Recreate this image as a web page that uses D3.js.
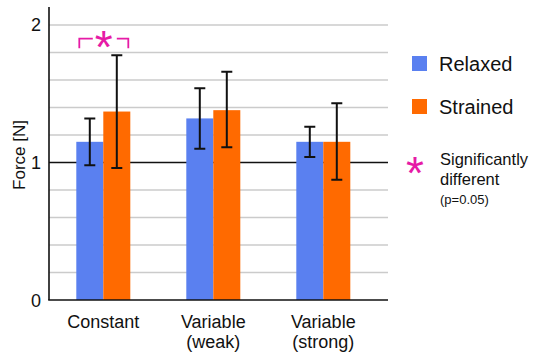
<!DOCTYPE html>
<html>
<head>
<meta charset="UTF-8">
<title>Force</title>
<script src="https://cdn.jsdelivr.net/npm/d3@7"></script>
<style>
  body { margin: 0; background: #fff; }
  text { font-family: "Liberation Sans", Arial, sans-serif; fill: #111; }
</style>
</head>
<body>
<svg width="535" height="356"></svg>
<script>
// data
var categories = ["Constant", "Variable\n(weak)", "Variable\n(strong)"];
var series = ["Relaxed", "Strained"];
var relaxed = [1.15, 1.32, 1.15];
var strained = [1.37, 1.38, 1.15];
var relaxedLo = [0.98, 1.10, 1.04];
var relaxedHi = [1.32, 1.54, 1.26];
var strainedLo = [0.96, 1.11, 0.875];
var strainedHi = [1.78, 1.66, 1.43];
var yTicks = [0, 1, 2];
var gridVals = [0.2, 0.4, 0.6, 0.8, 1.2, 1.4, 1.6, 1.8, 2];
var significant = ["Constant"];

var colors = { "Relaxed": "#5a80f0", "Strained": "#ff6a00" };
var magenta = "#e61ba6";

var svg = d3.select("svg");
var plotL = 49, plotR = 388, plotB = 300, plotT = 7;

var y = d3.scaleLinear().domain([0, 2.13]).range([plotB, plotT]);
var x0 = d3.scaleBand().domain(categories).range([48.3, 378.3]);
var x1 = d3.scaleBand().domain(series).range([-27, 27]);

// grid lines
svg.append("g").selectAll("line")
  .data(gridVals).enter().append("line")
  .attr("x1", plotL).attr("x2", plotR)
  .attr("y1", function (d) { return y(d); })
  .attr("y2", function (d) { return y(d); })
  .attr("stroke", "#cbcbcb").attr("stroke-width", 1.5);

// reference line at 1
svg.append("line")
  .attr("x1", plotL).attr("x2", plotR)
  .attr("y1", y(1)).attr("y2", y(1))
  .attr("stroke", "#111").attr("stroke-width", 1.6);

// rows for bars
var rows = [];
categories.forEach(function (c, i) {
  rows.push({ cat: c, s: "Relaxed", v: relaxed[i], lo: relaxedLo[i], hi: relaxedHi[i] });
  rows.push({ cat: c, s: "Strained", v: strained[i], lo: strainedLo[i], hi: strainedHi[i] });
});
function cx(d) { return x0(d.cat) + x0.bandwidth() / 2 + x1(d.s); }

svg.append("g").selectAll("rect")
  .data(rows).enter().append("rect")
  .attr("x", cx)
  .attr("width", x1.bandwidth())
  .attr("y", function (d) { return y(d.v); })
  .attr("height", function (d) { return y(0) - y(d.v); })
  .attr("fill", function (d) { return colors[d.s]; });

// error bars
var eb = svg.append("g").attr("stroke", "#111").attr("stroke-width", 2).attr("fill", "none");
rows.forEach(function (d) {
  var mx = cx(d) + x1.bandwidth() / 2;
  eb.append("path")
    .attr("d", "M" + (mx - 5.5) + "," + y(d.hi) + "H" + (mx + 5.5) +
      "M" + mx + "," + y(d.hi) + "V" + y(d.lo) +
      "M" + (mx - 5.5) + "," + y(d.lo) + "H" + (mx + 5.5));
});

// axes
svg.append("line").attr("x1", plotL).attr("x2", plotL).attr("y1", plotT).attr("y2", plotB)
  .attr("stroke", "#111").attr("stroke-width", 1.6);
svg.append("line").attr("x1", plotL - 0.8).attr("x2", plotR).attr("y1", plotB).attr("y2", plotB)
  .attr("stroke", "#111").attr("stroke-width", 1.6);

svg.append("g").selectAll("text")
  .data(yTicks).enter().append("text")
  .attr("x", 41).attr("y", function (d) { return y(d) + 6.5; })
  .attr("text-anchor", "end").attr("font-size", 18)
  .text(function (d) { return d; });

svg.append("text")
  .attr("transform", "translate(25,155) rotate(-90)")
  .attr("text-anchor", "middle").attr("font-size", 17)
  .text("Force [N]");

// category labels
categories.forEach(function (c) {
  var t = svg.append("text")
    .attr("x", x0(c) + x0.bandwidth() / 2).attr("y", 328)
    .attr("text-anchor", "middle").attr("font-size", 18);
  c.split("\n").forEach(function (line, i) {
    t.append("tspan").attr("x", x0(c) + x0.bandwidth() / 2)
      .attr("dy", i ? 19.5 : 0).text(line);
  });
});

// significance bracket
significant.forEach(function (c) {
  var a = x0(c) + x0.bandwidth() / 2 - 24, b = x0(c) + x0.bandwidth() / 2 + 25;
  var mid = (a + b) / 2, yt = y(1.9), yb = y(1.83);
  svg.append("path")
    .attr("d", "M" + a + "," + yb + "V" + yt + "H" + (mid - 11) +
      "M" + (mid + 13) + "," + yt + "H" + b + "V" + yb)
    .attr("fill", "none").attr("stroke", magenta).attr("stroke-width", 1.8);
  svg.append("text").attr("x", mid).attr("y", yt + 24)
    .attr("text-anchor", "middle").attr("font-size", 46)
    .style("fill", magenta).text("*");
});

// legend
series.forEach(function (s, i) {
  var ly = 56 + i * 43;
  svg.append("rect").attr("x", 412).attr("y", ly).attr("width", 15).attr("height", 15)
    .attr("fill", colors[s]);
  svg.append("text").attr("x", 439).attr("y", ly + 14.5).attr("font-size", 20).text(s);
});
svg.append("text").attr("x", 415).attr("y", 189)
  .attr("text-anchor", "middle").attr("font-size", 46)
  .style("fill", magenta).text("*");
svg.append("text").attr("x", 440).attr("y", 165).attr("font-size", 16.5).text("Significantly");
svg.append("text").attr("x", 440).attr("y", 185).attr("font-size", 16.5).text("different");
svg.append("text").attr("x", 440).attr("y", 204).attr("font-size", 13).text("(p=0.05)");
</script>
</body>
</html>
